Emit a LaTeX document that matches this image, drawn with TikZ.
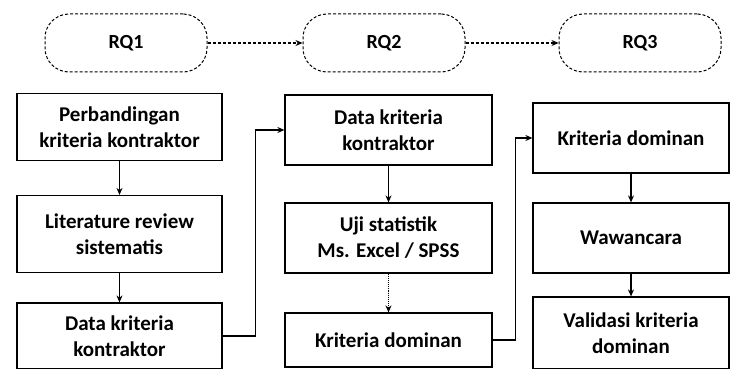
\documentclass[tikz,border=0pt]{standalone}
\usepackage{fontspec}
\setmainfont{Carlito}
\usetikzlibrary{arrows.meta,positioning}

\begin{document}
\begin{tikzpicture}[x=1pt,y=-1pt,
  rq/.style={draw,line width=1pt,densely dashed,rounded corners=24pt,minimum width=162pt,minimum height=58pt,font=\bfseries\fontsize{20}{24}\selectfont},
  box/.style={draw,line width=1.2pt,align=center,inner sep=0pt,font=\bfseries\fontsize{21}{26}\selectfont},
  flow/.style={-{Stealth[length=7pt,width=6pt]},line width=1.1pt}]
  \useasboundingbox (0,0) rectangle (731,369);
  % research questions
  \node[rq] (rq1) at (126,43) {RQ1};
  \node[rq] (rq2) at (384,43) {RQ2};
  \node[rq] (rq3) at (640,43) {RQ3};
  \draw[flow,densely dashed] (rq1) -- (rq2);
  \draw[flow,densely dashed] (rq2) -- (rq3);
  % steps
  \foreach \nm/\x/\y/\w/\h/\txt in {
    c1a/119.5/127/205/67/{Perbandingan\\kriteria kontraktor},
    c1b/119.5/234/205/77/{Literature review\\sistematis},
    c1c/119.5/336/205/66/{Data kriteria\\kontraktor},
    c2a/388.5/130/207/70/{Data kriteria\\kontraktor},
    c2b/388.5/238/207/70/{Uji statistik\\Ms. Excel / SPSS},
    c2c/388.5/340/207/54/{Kriteria dominan},
    c3a/631/138/196/70/{Kriteria dominan},
    c3b/631/238/196/70/{Wawancara},
    c3c/631/333/196/72/{Validasi kriteria\\dominan}}{
    \node[box,minimum width=\w pt,minimum height=\h pt] (\nm) at (\x,\y) {\txt};
  }
  \draw[flow] (c1a) -- (c1b);
  \draw[flow] (c1b) -- (c1c);
  \draw[flow] (c2a) -- (c2b);
  \draw[flow,densely dotted] (c2b) -- (c2c);
  \draw[flow] (c3a) -- (c3b);
  \draw[flow] (c3b) -- (c3c);
  \draw[flow] (c1c.east) -- ++(33,0) |- (c2a.west);
  \draw[flow] (c2c.east) -- ++(23,0) |- (c3a.west);
\end{tikzpicture}
\end{document}
